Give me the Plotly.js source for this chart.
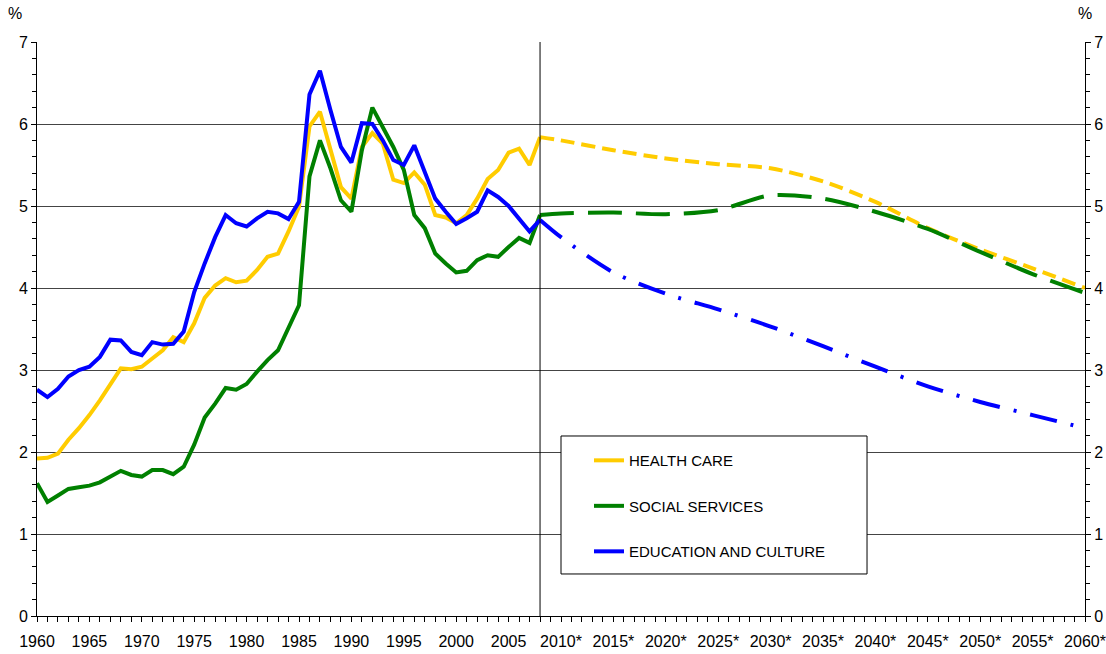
<!DOCTYPE html>
<html>
<head>
<meta charset="utf-8">
<script src="https://cdn.plot.ly/plotly-3.0.1.min.js"></script>
<style>html,body{margin:0;padding:0;background:#fff;}#chart{width:1106px;height:654px;}</style>
</head>
<body>
<div id="chart"></div>
<script>
// Historical years 1960..2008
const histYears = [1960,1961,1962,1963,1964,1965,1966,1967,1968,1969,1970,1971,1972,1973,1974,1975,1976,1977,1978,1979,1980,1981,1982,1983,1984,1985,1986,1987,1988,1989,1990,1991,1992,1993,1994,1995,1996,1997,1998,1999,2000,2001,2002,2003,2004,2005,2006,2007,2008];
const healthHist = [1.92,1.93,1.98,2.15,2.29,2.45,2.63,2.82,3.02,3.01,3.04,3.14,3.24,3.40,3.34,3.57,3.88,4.03,4.12,4.07,4.09,4.22,4.38,4.42,4.69,4.99,5.97,6.15,5.68,5.23,5.09,5.72,5.89,5.76,5.32,5.28,5.41,5.26,4.89,4.86,4.79,4.89,5.09,5.33,5.44,5.65,5.70,5.50,5.84];
const socialHist = [1.62,1.39,1.47,1.55,1.57,1.59,1.63,1.70,1.77,1.72,1.70,1.78,1.78,1.73,1.82,2.09,2.42,2.59,2.78,2.76,2.83,2.98,3.12,3.24,3.51,3.79,5.36,5.80,5.46,5.07,4.93,5.68,6.20,5.96,5.72,5.44,4.89,4.73,4.42,4.30,4.19,4.21,4.34,4.40,4.38,4.50,4.61,4.55,4.89];
const eduHist = [2.76,2.67,2.77,2.92,3.00,3.04,3.16,3.37,3.36,3.22,3.18,3.34,3.31,3.32,3.47,3.95,4.30,4.62,4.89,4.79,4.75,4.85,4.93,4.91,4.84,5.05,6.36,6.65,6.17,5.72,5.53,6.01,6.00,5.80,5.56,5.50,5.74,5.40,5.09,4.93,4.78,4.85,4.93,5.19,5.11,5.00,4.85,4.69,4.83];

// Projections (start at last historical year)
const projYears = [2008,2010,2015,2020,2025,2030,2035,2040,2045,2050,2055,2060];
const healthProj = [5.84,5.80,5.68,5.58,5.51,5.46,5.30,5.05,4.73,4.47,4.24,4.00];
const socialProj = [4.89,4.91,4.92,4.90,4.95,5.13,5.09,4.93,4.72,4.44,4.17,3.94];
const eduProj = [4.83,4.62,4.19,3.93,3.74,3.53,3.29,3.04,2.80,2.61,2.45,2.29];

const seriesNames = ['HEALTH CARE','SOCIAL SERVICES','EDUCATION AND CULTURE'];
const tickYears = [1960,1965,1970,1975,1980,1985,1990,1995,2000,2005,2010,2015,2020,2025,2030,2035,2040,2045,2050,2055,2060];
const tickLabels = ['1960','1965','1970','1975','1980','1985','1990','1995','2000','2005','2010*','2015*','2020*','2025*','2030*','2035*','2040*','2045*','2050*','2055*','2060*'];
const splitYear = 2008;

const YEL = '#FFCC00', GRN = '#008000', BLU = '#0000FF';
const FONT = 'Liberation Sans, Arial, sans-serif';

const traces = [
  {x: histYears, y: healthHist, name: seriesNames[0], legendgroup:'a', mode:'lines', line:{color:YEL, width:4}},
  {x: histYears, y: socialHist, name: seriesNames[1], legendgroup:'b', mode:'lines', line:{color:GRN, width:4}},
  {x: histYears, y: eduHist, name: seriesNames[2], legendgroup:'c', mode:'lines', line:{color:BLU, width:4}},
  {x: projYears, y: healthProj, yaxis:'y2', showlegend:false, mode:'lines', line:{color:YEL, width:4, dash:'14px,7px', shape:'spline', smoothing:0.8}},
  {x: projYears, y: socialProj, yaxis:'y2', showlegend:false, mode:'lines', line:{color:GRN, width:4, dash:'34px,14px', shape:'spline', smoothing:0.8}},
  {x: projYears, y: eduProj, yaxis:'y2', showlegend:false, mode:'lines', line:{color:BLU, width:4, dash:'28px,14px,3px,14px', shape:'spline', smoothing:0.8}}
];

const yCommon = {
  range:[0,7], dtick:1, tick0:0, showline:true, linecolor:'#000', linewidth:1,
  ticks:'outside', ticklen:5, tickcolor:'#000', zeroline:false,
  tickfont:{family:FONT, size:16, color:'#000'},
  minor:{dtick:0.2, tick0:0, ticks:'outside', ticklen:4, tickcolor:'#000', showgrid:false}
};

const layout = {
  width:1106, height:654,
  margin:{l:37, r:21, t:42, b:38},
  paper_bgcolor:'#fff', plot_bgcolor:'#fff',
  font:{family:FONT, size:16, color:'#000'},
  showlegend:true,
  xaxis:{
    range:[1960,2060], showline:true, linecolor:'#000', linewidth:1, mirror:false,
    tickmode:'array', tickvals:tickYears, ticktext:tickLabels,
    ticks:'outside', ticklen:5, tickcolor:'#000', ticklabelstandoff:6,
    showgrid:false, zeroline:false,
    tickfont:{family:FONT, size:16, color:'#000'},
    minor:{tickmode:'linear', tick0:1960, dtick:1, ticks:'outside', ticklen:5, tickcolor:'#000', showgrid:false}
  },
  yaxis: Object.assign({}, yCommon, {side:'left', showgrid:true, gridcolor:'#444', gridwidth:1}),
  yaxis2: Object.assign({}, yCommon, {side:'right', overlaying:'y', showgrid:false}),
  legend:{
    x:0.5267, y:0.2995, xanchor:'left', yanchor:'top',
    bgcolor:'rgba(0,0,0,0)', borderwidth:0,
    font:{family:FONT, size:15, color:'#000'},
    traceorder:'grouped', tracegroupgap:23
  },
  shapes:[
    {type:'line', xref:'x', yref:'paper', x0:splitYear, x1:splitYear, y0:0, y1:1, line:{color:'#000', width:1}},
    {type:'rect', xref:'paper', yref:'paper', x0:0.5, x1:0.792, y0:0.0732, y1:0.3136, fillcolor:'#fff', line:{color:'#000', width:1}, layer:'above'}
  ],
  annotations:[
    {text:'%', xref:'paper', yref:'paper', x:-0.021, y:1.05, xanchor:'center', yanchor:'middle', showarrow:false, font:{family:FONT, size:16}},
    {text:'%', xref:'paper', yref:'paper', x:1.0, y:1.05, xanchor:'center', yanchor:'middle', showarrow:false, font:{family:FONT, size:16}}
  ]
};

Plotly.newPlot('chart', traces, layout, {staticPlot:true, displayModeBar:false});
</script>
</body>
</html>
